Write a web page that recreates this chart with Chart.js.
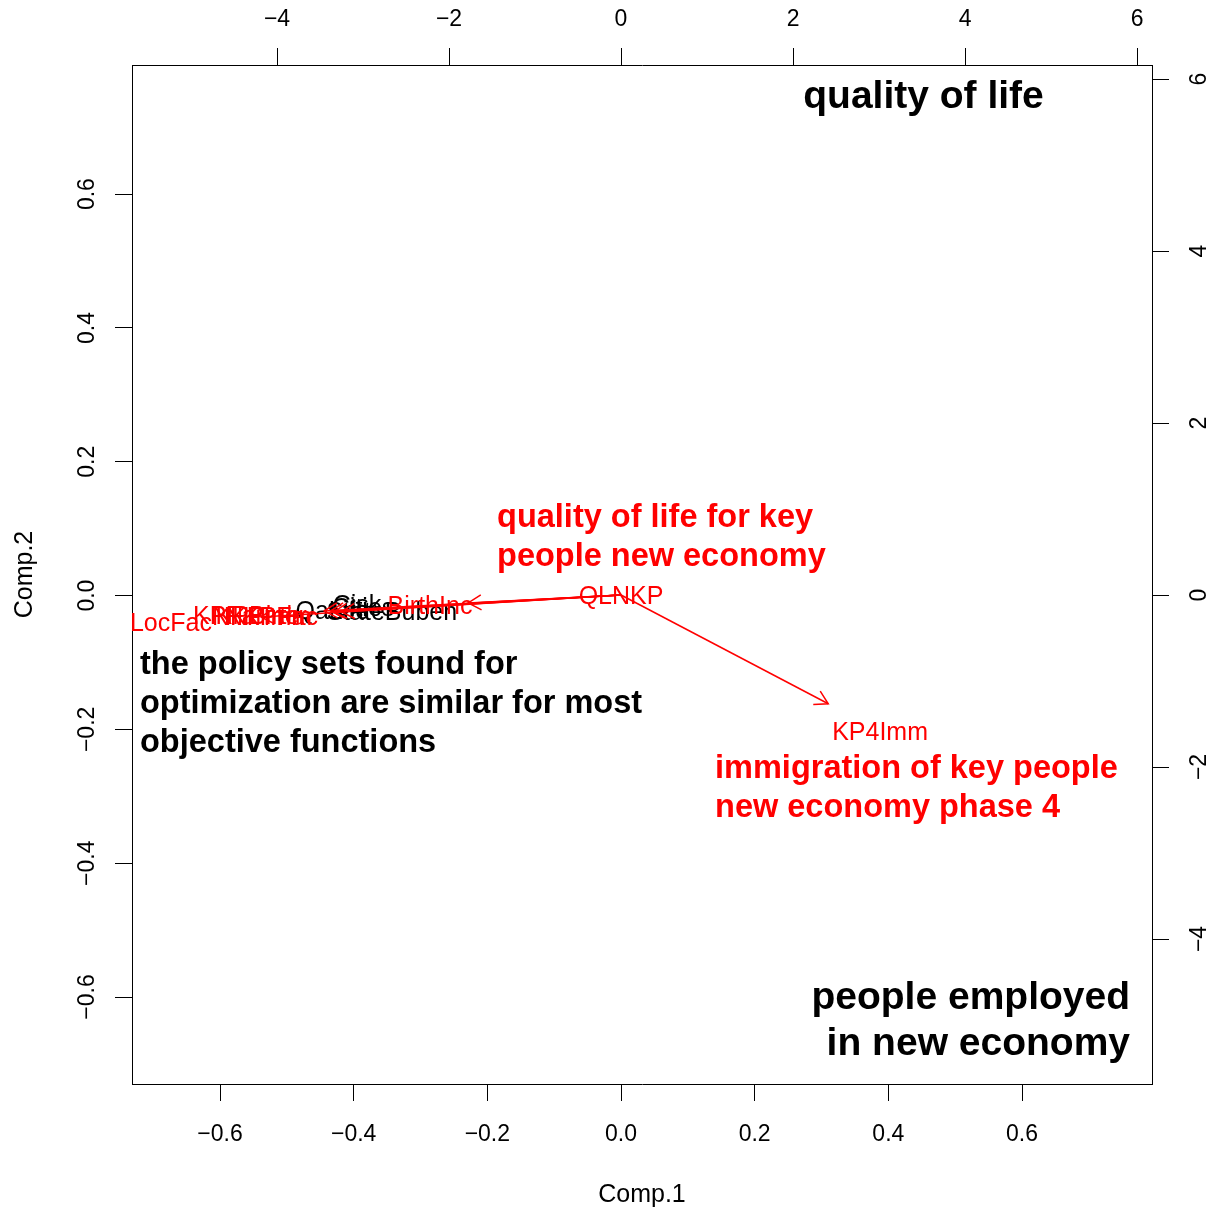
<!DOCTYPE html>
<html>
<head>
<meta charset="utf-8">
<script src="https://cdn.jsdelivr.net/npm/chart.js@4.4.1/dist/chart.umd.min.js"></script>
<style>
  html, body { margin: 0; padding: 0; background: #fff; }
  #wrap { width: 1219px; height: 1213px; }
</style>
</head>
<body>
<div id="wrap"><canvas id="biplot" width="1219" height="1213"></canvas></div>
<script>
// Principal component biplot: objective-function scores (black) and variable loadings (red arrows)

// Scores on the first two components (bottom / left axes)
const scoreNames = ['QaLife', 'Cisk', 'Cities', 'StateBuben'];
const scoreComp1 = [-0.432, -0.395, -0.386, -0.343];
const scoreComp2 = [-0.022, -0.013, -0.017, -0.023];

// Variable loadings (top / right axes)
const loadingNames = ['LocFac', 'KPFarmer', 'KPBirth', 'NKPImm', 'NKPFac', 'BirthInc', 'QLNKP', 'KP4Imm'];
const loadingComp1 = [-5.233, -4.314, -4.221, -4.174, -4.064, -2.221, 0.0, 3.012];
const loadingComp2 = [-0.320, -0.233, -0.233, -0.244, -0.244, -0.116, 0.0, -1.581];

// Tick values of the four axes
const comp1Ticks = [-0.6, -0.4, -0.2, 0, 0.2, 0.4, 0.6];
const comp2Ticks = [-0.6, -0.4, -0.2, 0, 0.2, 0.4, 0.6];
const loading1Ticks = [-4, -2, 0, 2, 4, 6];
const loading2Ticks = [-4, -2, 0, 2, 4, 6];

// Arrows are drawn to 80% of the loading, labels sit at the loading itself
const ARROW_SCALE = 0.8;

const FONT = "'Liberation Sans', Arial, Helvetica, sans-serif";
const TEXT_DROP = 2; // small downward nudge so text centres on its anchor
Chart.defaults.font.family = FONT;
Chart.defaults.color = '#000';

// Explanatory notes, positioned in Comp.1 / Comp.2 units
const notes = [
  { lines: ['quality of life'], x: 0.4526, y: 0.7481, align: 'center', color: '#000', size: 39, lh: 46 },
  { lines: ['people employed', 'in new economy'], x: 0.7616, y: -0.5987, align: 'right', color: '#000', size: 39, lh: 46 },
  { lines: ['the policy sets found for', 'optimization are similar for most', 'objective functions'], x: -0.7197, y: -0.1009, align: 'left', color: '#000', size: 32.5, lh: 39 },
  { lines: ['quality of life for key', 'people new economy'], x: -0.1855, y: 0.1188, align: 'left', color: '#ff0000', size: 32.5, lh: 39 },
  { lines: ['immigration of key people', 'new economy phase 4'], x: 0.1407, y: -0.2564, align: 'left', color: '#ff0000', size: 32.5, lh: 39 }
];

const minusFmt = (s) => s.replace('-', '\u2212');

const arrowDatasets = loadingNames.map((name, i) => ({
  label: name,
  data: [{ x: 0, y: 0 }, { x: loadingComp1[i] * ARROW_SCALE, y: loadingComp2[i] * ARROW_SCALE }],
  xAxisID: 'x2',
  yAxisID: 'y2',
  showLine: true,
  borderColor: '#ff0000',
  borderWidth: 1.5,
  pointRadius: 0,
  fill: false
}));

const scoreDataset = {
  label: 'scores',
  data: scoreComp1.map((v, i) => ({ x: v, y: scoreComp2[i] })),
  xAxisID: 'x',
  yAxisID: 'y',
  pointRadius: 0
};

function clipToArea(ctx, a) {
  ctx.beginPath();
  ctx.rect(a.left, a.top, a.right - a.left, a.bottom - a.top);
  ctx.clip();
}

const biplotText = {
  id: 'biplotText',
  beforeDatasetsDraw(chart) {
    const { ctx, chartArea, scales } = chart;
    ctx.save();
    clipToArea(ctx, chartArea);
    ctx.font = '25px ' + FONT;
    ctx.fillStyle = '#000';
    ctx.textAlign = 'center';
    ctx.textBaseline = 'middle';
    scoreNames.forEach((n, i) => {
      ctx.fillText(n, scales.x.getPixelForValue(scoreComp1[i]), scales.y.getPixelForValue(scoreComp2[i]) + TEXT_DROP);
    });
    ctx.restore();
  },
  afterDatasetsDraw(chart) {
    const { ctx, chartArea, scales } = chart;
    const sx = scales.x2, sy = scales.y2;
    ctx.save();
    clipToArea(ctx, chartArea);

    // arrow heads
    ctx.strokeStyle = '#ff0000';
    ctx.lineWidth = 1.5;
    const ox = sx.getPixelForValue(0), oy = sy.getPixelForValue(0);
    loadingNames.forEach((n, i) => {
      const tx = sx.getPixelForValue(loadingComp1[i] * ARROW_SCALE);
      const ty = sy.getPixelForValue(loadingComp2[i] * ARROW_SCALE);
      const len = Math.hypot(tx - ox, ty - oy);
      if (len < 1) return;
      const ang = Math.atan2(ty - oy, tx - ox);
      const head = 15, spread = Math.PI / 6;
      ctx.beginPath();
      ctx.moveTo(tx - head * Math.cos(ang - spread), ty - head * Math.sin(ang - spread));
      ctx.lineTo(tx, ty);
      ctx.lineTo(tx - head * Math.cos(ang + spread), ty - head * Math.sin(ang + spread));
      ctx.stroke();
    });

    // variable labels
    ctx.font = '25px ' + FONT;
    ctx.fillStyle = '#ff0000';
    ctx.textAlign = 'center';
    ctx.textBaseline = 'middle';
    loadingNames.forEach((n, i) => {
      ctx.fillText(n, sx.getPixelForValue(loadingComp1[i]), sy.getPixelForValue(loadingComp2[i]) + TEXT_DROP);
    });

    // notes
    notes.forEach(note => {
      ctx.font = 'bold ' + note.size + 'px ' + FONT;
      ctx.fillStyle = note.color;
      ctx.textAlign = note.align;
      const px = scales.x.getPixelForValue(note.x);
      const py = scales.y.getPixelForValue(note.y) + TEXT_DROP;
      note.lines.forEach((line, k) => ctx.fillText(line, px, py + k * note.lh));
    });
    ctx.restore();
  }
};

const axisGrid = { display: true, drawOnChartArea: false, drawTicks: true, tickLength: 17, color: '#000', lineWidth: 1 };
const axisBorder = { display: true, color: '#000', width: 1 };
const tickFont = { size: 23, family: FONT };

new Chart(document.getElementById('biplot'), {
  type: 'scatter',
  data: { datasets: [scoreDataset, ...arrowDatasets] },
  plugins: [biplotText],
  options: {
    responsive: false,
    animation: false,
    devicePixelRatio: 1,
    layout: { padding: 0 },
    plugins: { legend: { display: false }, tooltip: { enabled: false } },
    scales: {
      x: {
        type: 'linear', position: 'bottom', min: -0.7317, max: 0.7945,
        grid: axisGrid, border: axisBorder,
        afterBuildTicks: s => { s.ticks = comp1Ticks.map(v => ({ value: v })); },
        afterFit: s => { s.height = 129; },
        ticks: { font: tickFont, color: '#000', padding: 20, autoSkip: false, maxRotation: 0,
                 callback: v => minusFmt(Number(v).toFixed(1)) },
        title: { display: true, text: 'Comp.1', color: '#000', font: { size: 25, family: FONT }, padding: { top: 0, bottom: 3 } }
      },
      y: {
        type: 'linear', position: 'left', min: -0.730, max: 0.793,
        grid: axisGrid, border: axisBorder,
        afterBuildTicks: s => { s.ticks = comp2Ticks.map(v => ({ value: v })); },
        afterFit: s => { s.width = 132; },
        ticks: { font: tickFont, color: '#000', padding: 5, autoSkip: false, minRotation: 90, maxRotation: 90, crossAlign: 'center',
                 callback: v => minusFmt(Number(v).toFixed(1)) },
        title: { display: true, text: 'Comp.2', color: '#000', font: { size: 25, family: FONT }, padding: { top: 10, bottom: 0 } }
      },
      x2: {
        type: 'linear', position: 'top', min: -5.686, max: 6.174,
        grid: axisGrid, border: axisBorder,
        afterBuildTicks: s => { s.ticks = loading1Ticks.map(v => ({ value: v })); },
        afterFit: s => { s.height = 65; },
        ticks: { font: tickFont, color: '#000', padding: 15, autoSkip: false, maxRotation: 0,
                 callback: v => minusFmt(String(Math.round(v))) }
      },
      y2: {
        type: 'linear', position: 'right', min: -5.686, max: 6.163,
        grid: axisGrid, border: axisBorder,
        afterBuildTicks: s => { s.ticks = loading2Ticks.map(v => ({ value: v })); },
        afterFit: s => { s.width = 67; },
        ticks: { font: tickFont, color: '#000', padding: 18, autoSkip: false, minRotation: 90, maxRotation: 90, crossAlign: 'center',
                 callback: v => minusFmt(String(Math.round(v))) }
      }
    }
  }
});
</script>
</body>
</html>
